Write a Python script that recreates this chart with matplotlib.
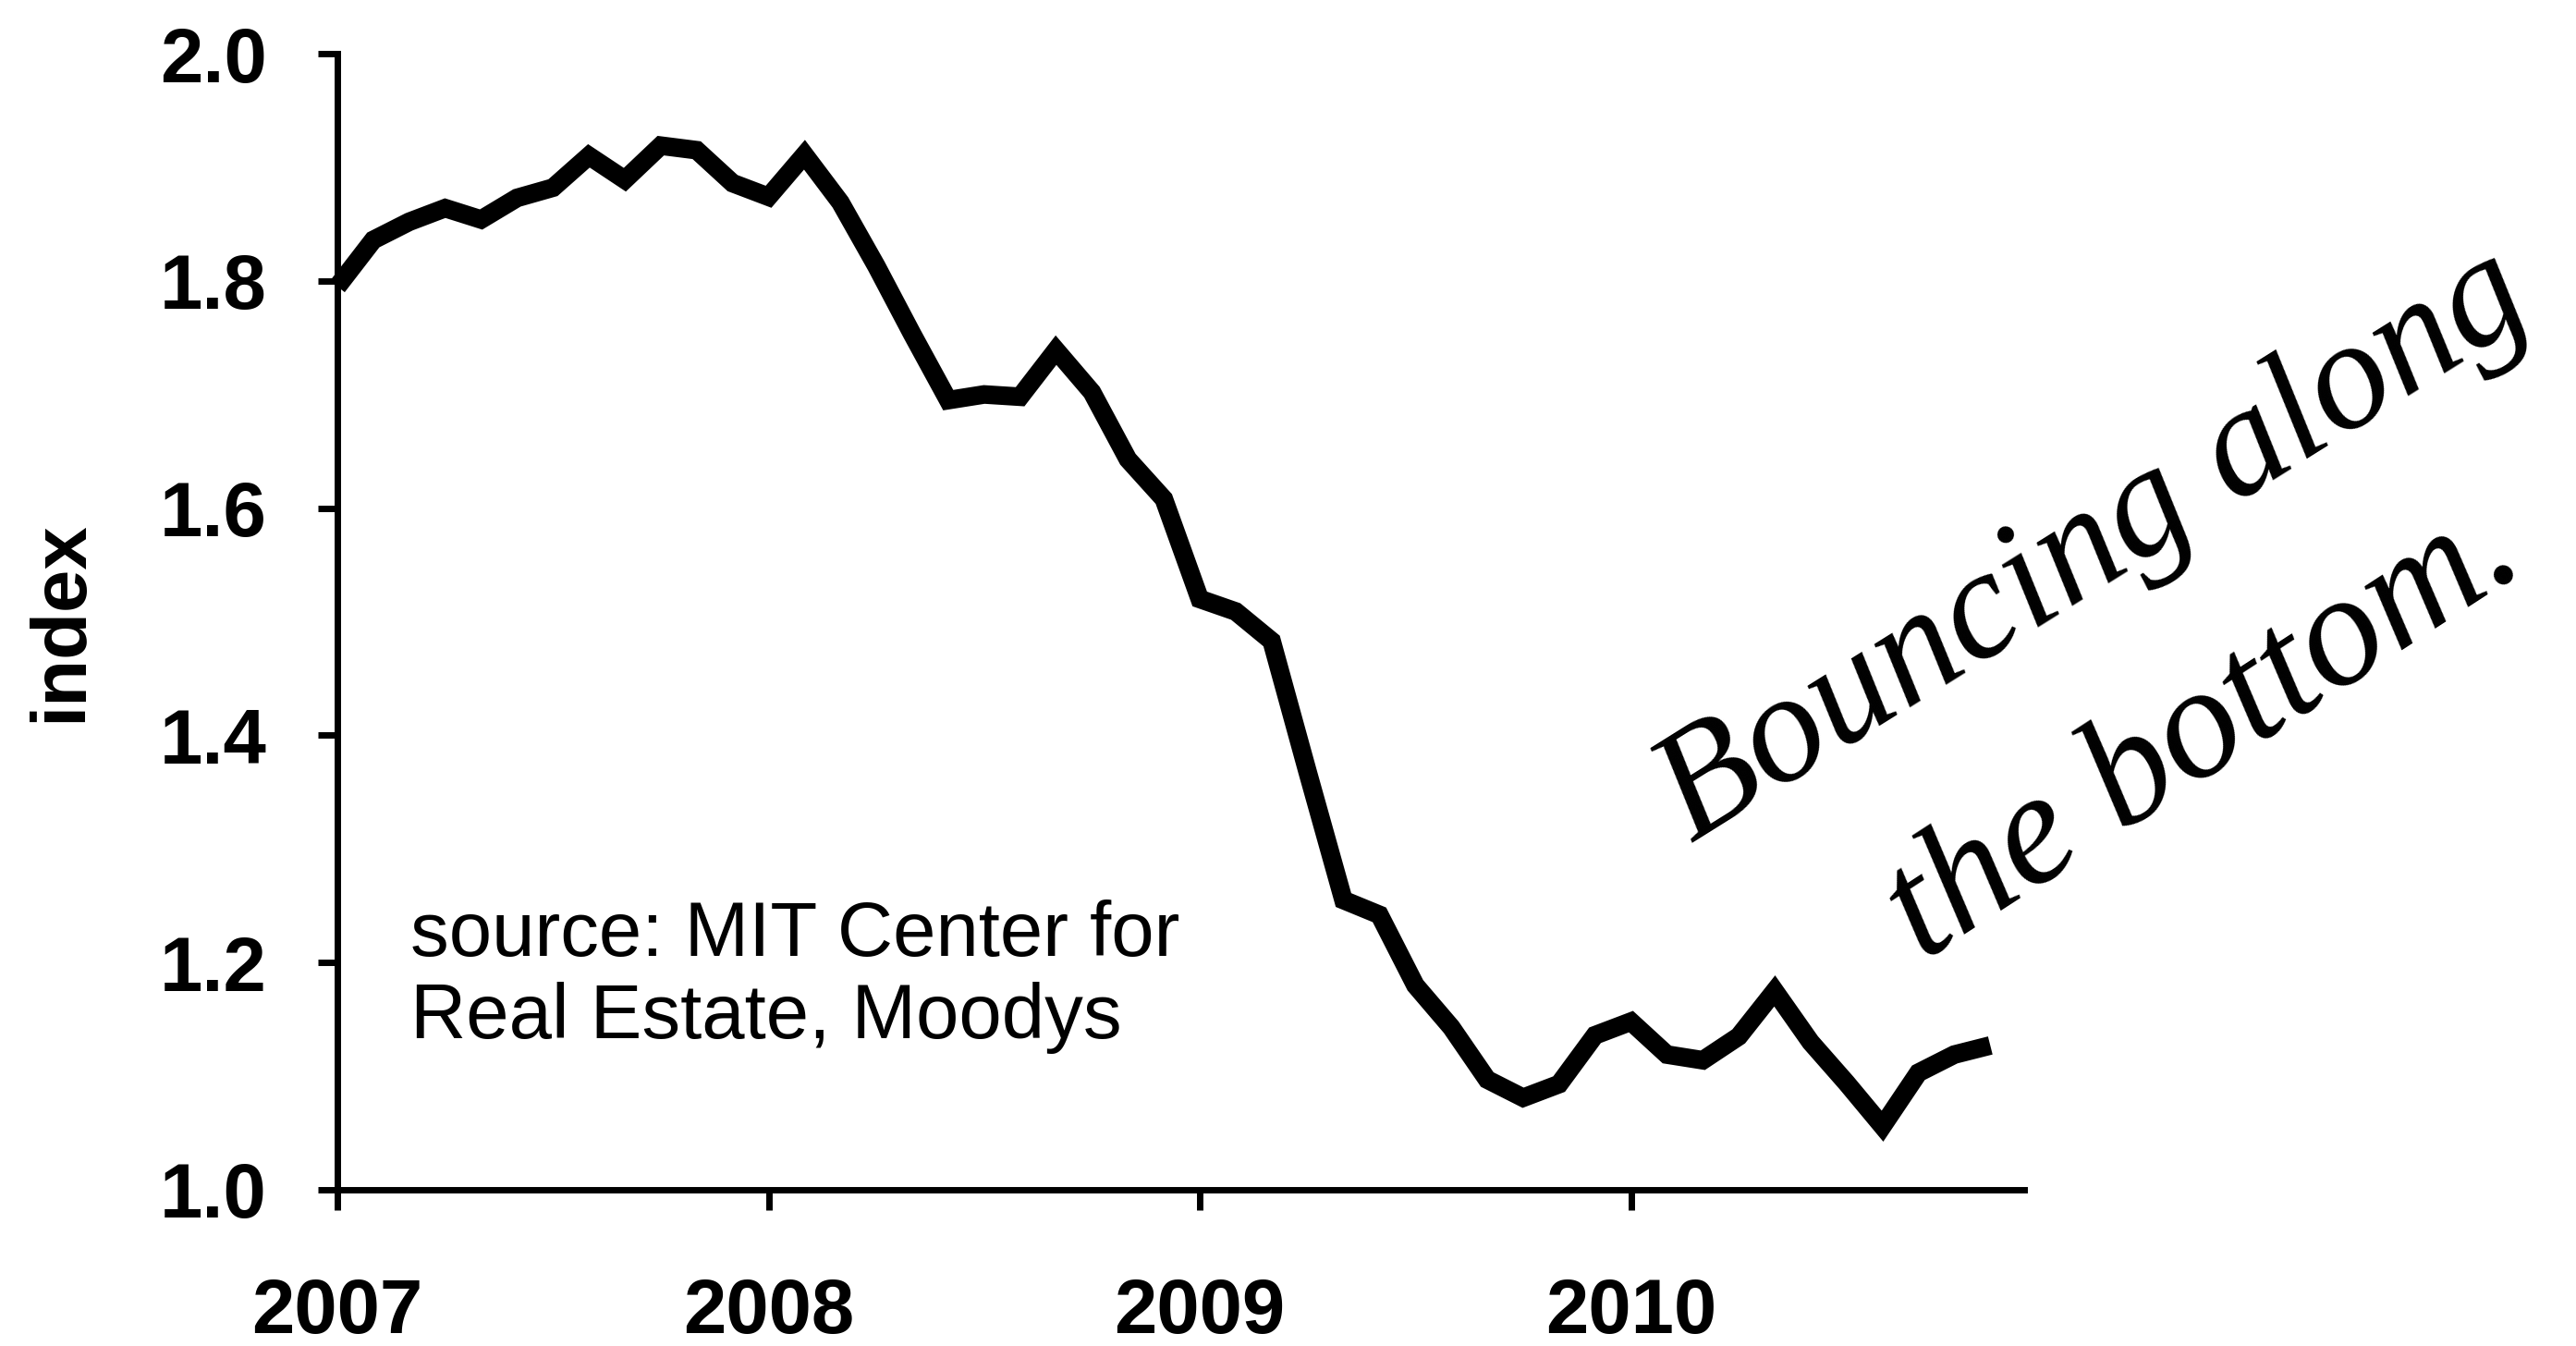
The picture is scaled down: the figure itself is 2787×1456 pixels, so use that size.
import matplotlib
matplotlib.use("Agg")
import matplotlib.pyplot as plt
import pandas as pd

# ---- data ----
months = pd.date_range("2007-01-01", "2010-11-01", freq="MS")
index_values = [
    1.795, 1.836, 1.852, 1.864, 1.854, 1.873, 1.882, 1.910, 1.889, 1.919, 1.915, 1.886,
    1.874, 1.911, 1.869, 1.813, 1.753, 1.695, 1.700, 1.698, 1.739, 1.702, 1.643, 1.608,
    1.520, 1.509, 1.483, 1.368, 1.255, 1.242, 1.180, 1.143, 1.097, 1.081, 1.093, 1.136,
    1.148, 1.119, 1.114, 1.135, 1.175, 1.130, 1.094, 1.056, 1.103, 1.119, 1.127,
]
x_tick_years = [2007, 2008, 2009, 2010]
x_tick_labels = ["2007", "2008", "2009", "2010"]
y_ticks = [1.0, 1.2, 1.4, 1.6, 1.8, 2.0]
y_tick_labels = ["1.0", "1.2", "1.4", "1.6", "1.8", "2.0"]
source_lines = ["source: MIT Center for", "Real Estate, Moodys"]
note_lines = ["Bouncing along", "the bottom."]

x_vals = months.year + (months.month - 1) / 12.0

plt.rcParams["font.family"] = ["Liberation Sans", "DejaVu Sans"]

W, H = 2787, 1456
fig = plt.figure(figsize=(W / 100, H / 100), dpi=100)
fig.patch.set_facecolor("white")

left, right, top, bottom = 365, 2190, 58, 1287
ax = fig.add_axes([left / W, 1 - bottom / H, (right - left) / W, (bottom - top) / H])

ax.plot(x_vals, index_values, color="black", lw=14.5, solid_joinstyle="miter",
        solid_capstyle="butt", clip_on=False)

ax.set_xlim(2007, 2010.912)
ax.set_ylim(1.0, 2.0)

for s in ["top", "right"]:
    ax.spines[s].set_visible(False)
for s in ["left", "bottom"]:
    ax.spines[s].set_linewidth(5)
    ax.spines[s].set_color("black")

ax.set_xticks(x_tick_years, x_tick_labels, fontsize=60, fontweight="bold")
ax.set_yticks(y_ticks, y_tick_labels, fontsize=60, fontweight="bold")
ax.tick_params(axis="x", direction="out", length=16, width=5, pad=52)
ax.tick_params(axis="y", direction="out", length=15, width=5, pad=40)

fig.text(66 / W, 1 - 672 / H, "index", rotation=90, fontsize=60, fontweight="bold",
         ha="center", va="center")

fig.text(444 / W, 1 - 1034 / H, source_lines[0], fontsize=60, ha="left", va="baseline")
fig.text(444 / W, 1 - 1123 / H, source_lines[1], fontsize=60, ha="left", va="baseline")

fig.text(1830 / W, 1 - 912 / H, note_lines[0], fontsize=122, family="Liberation Serif",
         style="italic", rotation=32, rotation_mode="anchor", ha="left", va="baseline")
fig.text(2080 / W, 1 - 1040 / H, note_lines[1], fontsize=125, family="Liberation Serif",
         style="italic", rotation=33, rotation_mode="anchor", ha="left", va="baseline")

fig.savefig("out.png", dpi=100, facecolor="white")
